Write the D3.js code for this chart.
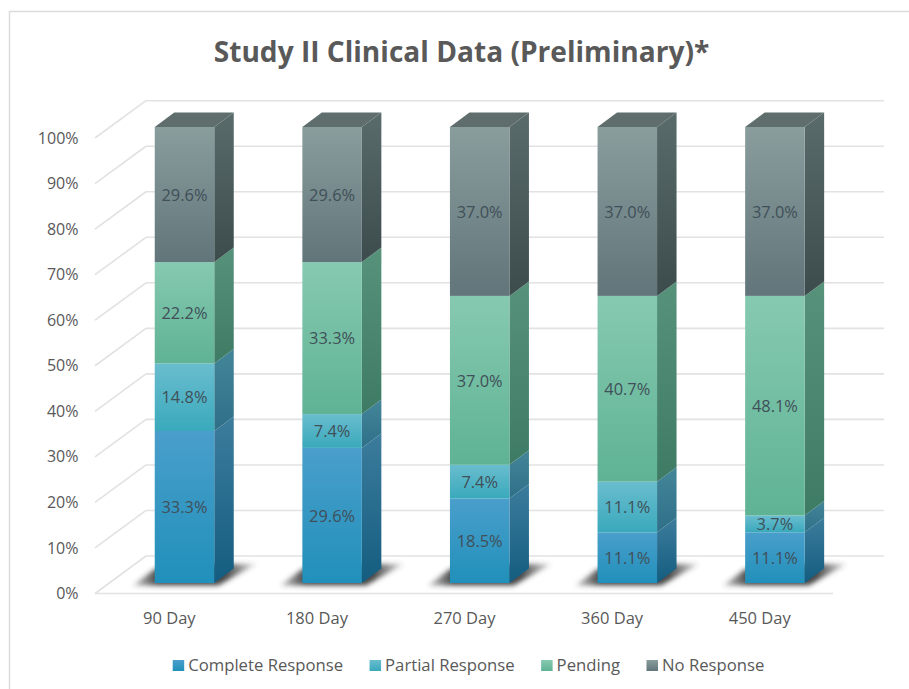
<!DOCTYPE html>
<html>
<head>
<meta charset="utf-8">
<script src="https://d3js.org/d3.v7.min.js"></script>
<style>
    html, body { margin: 0; padding: 0; background: #fff; }
    svg { display: block; font-family: "Open Sans", sans-serif; }
</style>
</head>
<body>
<svg id="chart" width="909" height="689"></svg>
<script>
const days = ['90 Day', '180 Day', '270 Day', '360 Day', '450 Day']
const seriesNames = ['Complete Response', 'Partial Response', 'Pending', 'No Response']
const completeResponse = [33.3, 29.6, 18.5, 11.1, 11.1]
const partialResponse = [14.8, 7.4, 7.4, 11.1, 3.7]
const pending = [22.2, 33.3, 37.0, 40.7, 48.1]
const noResponse = [29.6, 29.6, 37.0, 37.0, 37.0]
const percentTicks = [0, 10, 20, 30, 40, 50, 60, 70, 80, 90, 100]

const frontColors = [['#4a9ecb', '#2090ba'], ['#69bdce', '#3aa9bc'], ['#86c9b1', '#5fb394'], ['#8a9d9d', '#61757a']]
const sideColors = [['#3c7c9c', '#145d80'], ['#438598', '#2f7089'], ['#57927b', '#3e7b65'], ['#5a6b6b', '#3c4c4d']]
const topColor = '#5f6e6d'

const svg = d3.select('#chart')

const depth = { x: 19.5, y: -14.5 }
const barWidth = 59.5

// the chart sits on a sheared floor, so there is one y scale per plane
const xFloor = d3.scaleBand().domain(days).range([95, 833])
const yFront = d3.scaleLinear().domain([0, 100]).range([593.5, 138])
const yBack = d3.scaleLinear().domain([0, 100]).range([556, 100.7])
const yBar = d3.scaleLinear().domain([0, 1]).range([583, 127])

const rows = days.map((d, i) => ({
    day: d,
    'Complete Response': completeResponse[i],
    'Partial Response': partialResponse[i],
    'Pending': pending[i],
    'No Response': noResponse[i]
}))
const stacked = d3.stack().keys(seriesNames).offset(d3.stackOffsetExpand)(rows)
const barLeft = d => xFloor(d) + (xFloor.bandwidth() - barWidth) / 2 + 15.7

// gradients
const defs = svg.append('defs')
function addGradient(id, stops) {
    const g = defs.append('linearGradient').attr('id', id)
        .attr('x1', 0).attr('y1', 0).attr('x2', 0).attr('y2', 1)
    g.append('stop').attr('offset', 0).attr('stop-color', stops[0])
    g.append('stop').attr('offset', 1).attr('stop-color', stops[1])
}
seriesNames.forEach((s, i) => {
    addGradient(`front${i}`, frontColors[i])
    addGradient(`side${i}`, sideColors[i])
})
defs.append('filter').attr('id', 'blur')
    .attr('x', '-20%').attr('y', '-40%').attr('width', '140%').attr('height', '180%')
    .append('feGaussianBlur').attr('stdDeviation', 2.6)

// shadow is darkest under the bar and fades toward both ends
const shadowFade = defs.append('linearGradient').attr('id', 'shadowFade')
shadowFade.append('stop').attr('offset', 0).attr('stop-color', '#3a3a3a').attr('stop-opacity', 0.25)
shadowFade.append('stop').attr('offset', 0.2).attr('stop-color', '#333').attr('stop-opacity', 0.9)
shadowFade.append('stop').attr('offset', 0.75).attr('stop-color', '#333').attr('stop-opacity', 0.9)
shadowFade.append('stop').attr('offset', 1).attr('stop-color', '#3a3a3a').attr('stop-opacity', 0.15)

// frame
svg.append('path')
    .attr('d', 'M909,11.5H9.5V689')
    .attr('fill', 'none').attr('stroke', '#dcdcdc').attr('stroke-width', 1.5)

svg.append('text')
    .attr('x', 461.5).attr('y', 62)
    .attr('text-anchor', 'middle')
    .attr('font-size', 28.1).attr('font-weight', 700)
    .attr('fill', '#595959')
    .text('Study II Clinical Data (Preliminary)*')

// grid on back and left walls
const grid = svg.append('g').attr('fill', 'none').attr('stroke', '#e2e2e2').attr('stroke-width', 1.6)
grid.selectAll('.back').data(percentTicks).join('line')
    .attr('class', 'back')
    .attr('x1', 146).attr('x2', 884)
    .attr('y1', d => yBack(d)).attr('y2', d => yBack(d))
grid.selectAll('.wall').data(percentTicks).join('line')
    .attr('class', 'wall')
    .attr('x1', 95).attr('x2', 146)
    .attr('y1', d => yFront(d)).attr('y2', d => yBack(d))
grid.append('line')
    .attr('x1', 95).attr('x2', 833)
    .attr('y1', yFront(0)).attr('y2', yFront(0))

// axes
const yAxis = d3.axisLeft(yFront).tickValues(percentTicks).tickFormat(d => d + '%').tickSize(0).tickPadding(0)
svg.append('g').attr('transform', 'translate(78.5,0)').call(yAxis)
    .call(g => g.select('.domain').remove())
    .selectAll('text').attr('font-size', 16).attr('fill', '#595959').style('font-family', '"Open Sans", sans-serif')

const xAxis = d3.axisBottom(xFloor).tickSize(0).tickPadding(0)
svg.append('g').attr('transform', 'translate(0.5,612)').call(xAxis)
    .call(g => g.select('.domain').remove())
    .selectAll('text').attr('font-size', 16.5).attr('fill', '#595959').style('font-family', '"Open Sans", sans-serif')

// floor shadows
const shadow = svg.append('g').attr('filter', 'url(#blur)')
shadow.selectAll('path').data(days).join('path')
    .attr('fill', 'url(#shadowFade)')
    .attr('d', d => {
        const x0 = barLeft(d), x1 = x0 + barWidth, y0 = yBar(0)
        return `M${x0 - 22},${y0 + 2.5}H${x1 + 4}L${x1 + 42},${y0 - 19}H${x1}L${x0},${y0 - 14}Z`
    })

// bars, one group per series
const seriesGroups = svg.selectAll('.series').data(stacked).join('g').attr('class', 'series')

seriesGroups.each(function (layer, i) {
    const group = d3.select(this)
    const cells = layer.map((v, j) => ({ day: days[j], y0: yBar(v[0]), y1: yBar(v[1]) }))

    group.selectAll('.side').data(cells).join('path')
        .attr('class', 'side')
        .attr('fill', `url(#side${i})`)
        .attr('d', c => {
            const x = barLeft(c.day) + barWidth
            return `M${x},${c.y0}V${c.y1}L${x + depth.x},${c.y1 + depth.y}V${c.y0 + depth.y}Z`
        })

    group.selectAll('.front').data(cells).join('rect')
        .attr('class', 'front')
        .attr('fill', `url(#front${i})`)
        .attr('x', c => barLeft(c.day))
        .attr('y', c => c.y1)
        .attr('width', barWidth)
        .attr('height', c => c.y0 - c.y1)

    // only the top series shows its cap
    if (i === stacked.length - 1) {
        group.selectAll('.cap').data(cells).join('path')
            .attr('class', 'cap')
            .attr('fill', topColor)
            .attr('d', c => {
                const x = barLeft(c.day)
                return `M${x},${c.y1}H${x + barWidth}L${x + barWidth + depth.x},${c.y1 + depth.y}H${x + depth.x}Z`
            })
    }
})

// value labels
seriesGroups.each(function (layer) {
    d3.select(this).selectAll('.value').data(layer).join('text')
        .attr('class', 'value')
        .attr('x', (v, j) => barLeft(days[j]) + barWidth / 2)
        .attr('y', v => (yBar(v[0]) + yBar(v[1])) / 2 + 0.5)
        .attr('dy', '0.35em')
        .attr('text-anchor', 'middle')
        .attr('font-size', 16.4)
        .attr('fill', '#404f58')
        .text((v, j) => v.data[layer.key].toFixed(1) + '%')
})

// legend
const legend = svg.append('g').attr('transform', 'translate(172.7,660)')
let legendX = 0
seriesNames.forEach((s, i) => {
    const item = legend.append('g').attr('transform', `translate(${legendX},0)`)
    item.append('rect').attr('width', 11.5).attr('height', 11).attr('fill', `url(#front${i})`)
    const label = item.append('text')
        .attr('x', 15.5).attr('y', 5).attr('dy', '0.35em')
        .attr('font-size', 16.7).attr('fill', '#595959')
        .text(s)
    legendX += 15.5 + label.node().getComputedTextLength() + 26.5
})
</script>
</body>
</html>
